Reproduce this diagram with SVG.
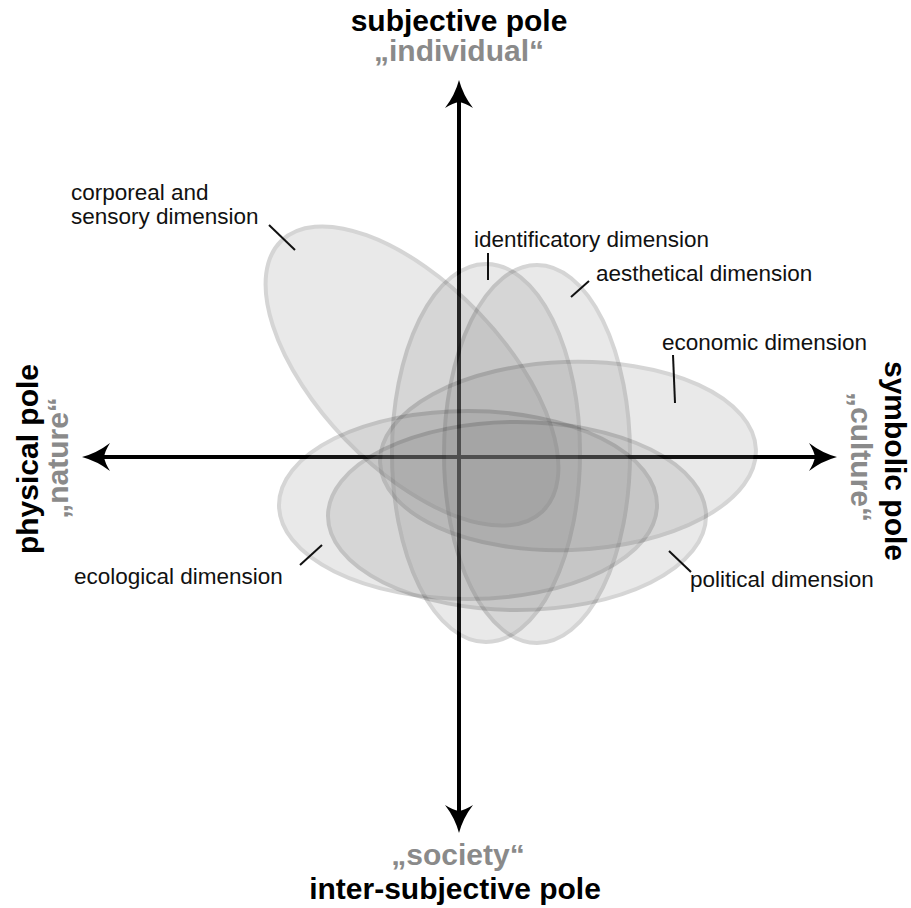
<svg xmlns="http://www.w3.org/2000/svg" width="911" height="908" viewBox="0 0 911 908">
<style>
text{font-family:"Liberation Sans",Arial,sans-serif}
.pole{font-size:30px;font-weight:bold;fill:#000;text-anchor:middle}
.alt{font-size:30px;font-weight:bold;fill:#8a8a8a;text-anchor:middle}
.lbl{font-size:22.5px;fill:#111}
.dim{fill:#7a7a7a;stroke:#000;stroke-width:4;opacity:.16}
.tick{stroke:#111;stroke-width:2;fill:none}
.axis{stroke:#000;stroke-width:4;fill:none;marker-start:url(#arr);marker-end:url(#arr)}
</style>
<defs>
<marker id="arr" viewBox="0 -15 31 30" refX="8" refY="0" markerWidth="31" markerHeight="30" markerUnits="userSpaceOnUse" orient="auto-start-reverse">
<path d="M30,0 Q15,-4 2,-14 Q7,-6 8,0 Q7,6 2,14 Q15,4 30,0 Z" fill="#000"/>
</marker>
</defs>
<rect width="911" height="908" fill="#fff"/>
<g id="connectors">
<path class="axis" d="M459,102 L459,811"/>
<path class="axis" d="M104,457 L815,457"/>
</g>
<g id="corporeal">
<ellipse class="dim" cx="412" cy="376" rx="188" ry="92" transform="rotate(46 412 376)"/>
<line class="tick" x1="269" y1="225" x2="295" y2="250"/>
<text class="lbl" x="71" y="200">corporeal and</text>
<text class="lbl" x="71" y="224">sensory dimension</text>
</g>
<g id="identificatory">
<ellipse class="dim" cx="486" cy="453" rx="94" ry="189"/>
<line class="tick" x1="488" y1="253" x2="488" y2="280"/>
<text class="lbl" x="474" y="247">identificatory dimension</text>
</g>
<g id="aesthetical">
<ellipse class="dim" cx="537" cy="454" rx="93" ry="189"/>
<line class="tick" x1="589" y1="281" x2="571" y2="297"/>
<text class="lbl" x="596" y="281">aesthetical dimension</text>
</g>
<g id="economic">
<ellipse class="dim" cx="568" cy="456" rx="188" ry="94" transform="rotate(-2 568 456)"/>
<line class="tick" x1="673" y1="355" x2="675" y2="403"/>
<text class="lbl" x="662" y="350">economic dimension</text>
</g>
<g id="ecological">
<ellipse class="dim" cx="468" cy="505" rx="189" ry="94"/>
<line class="tick" x1="300" y1="565" x2="322" y2="545"/>
<text class="lbl" x="74" y="584">ecological dimension</text>
</g>
<g id="political">
<ellipse class="dim" cx="517" cy="516" rx="189" ry="94"/>
<line class="tick" x1="669" y1="551" x2="691" y2="572"/>
<text class="lbl" x="690" y="587">political dimension</text>
</g>
<g id="subjective-pole">
<text class="pole" x="459" y="31">subjective pole</text>
<text class="alt" x="459" y="61">„individual“</text>
</g>
<g id="intersubjective-pole">
<text class="alt" x="458" y="865">„society“</text>
<text class="pole" x="455" y="899">inter-subjective pole</text>
</g>
<g id="physical-pole">
<text class="pole" transform="translate(38 459) rotate(-90)">physical pole</text>
<text class="alt" transform="translate(68 458) rotate(-90)">„nature“</text>
</g>
<g id="symbolic-pole">
<text class="pole" transform="translate(885 461) rotate(90)">symbolic pole</text>
<text class="alt" transform="translate(851 457) rotate(90)">„culture“</text>
</g>
</svg>
